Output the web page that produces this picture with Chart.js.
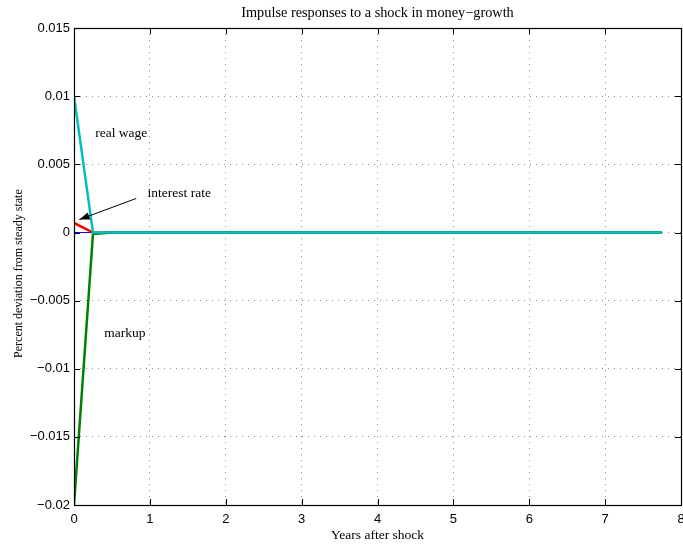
<!DOCTYPE html>
<html>
<head>
<meta charset="utf-8">
<title>Impulse responses</title>
<script src="https://cdn.jsdelivr.net/npm/chart.js@4.4.1/dist/chart.umd.min.js"></script>
<style>
  html, body { margin: 0; padding: 0; background: #fff; }
  canvas { display: block; }
</style>
</head>
<body>
<canvas id="graficoImpulso" width="683" height="545"></canvas>
<script>
// trimestri dopo lo shock (anni)
const anni = [0, 0.25, 0.5, 0.75, 1, 1.25, 1.5, 1.75, 2, 2.25, 2.5, 2.75, 3, 3.25, 3.5, 3.75,
  4, 4.25, 4.5, 4.75, 5, 5.25, 5.5, 5.75, 6, 6.25, 6.5, 6.75, 7, 7.25, 7.5, 7.75];

// risposte
const realWage = [0.01, 0, 0, 0, 0, 0, 0, 0, 0, 0, 0, 0, 0, 0, 0, 0,
  0, 0, 0, 0, 0, 0, 0, 0, 0, 0, 0, 0, 0, 0, 0, 0];
const interestRate = [0.0007, 0, 0, 0, 0, 0, 0, 0, 0, 0, 0, 0, 0, 0, 0, 0,
  0, 0, 0, 0, 0, 0, 0, 0, 0, 0, 0, 0, 0, 0, 0, 0];
const markup = [-0.02, -0.0001, 0, 0, 0, 0, 0, 0, 0, 0, 0, 0, 0, 0, 0, 0,
  0, 0, 0, 0, 0, 0, 0, 0, 0, 0, 0, 0, 0, 0, 0, 0];
const baseline = [0, 0, 0, 0, 0, 0, 0, 0, 0, 0, 0, 0, 0, 0, 0, 0,
  0, 0, 0, 0, 0, 0, 0, 0, 0, 0, 0, 0, 0, 0, 0, 0];

const xTicks = [0, 1, 2, 3, 4, 5, 6, 7, 8];
const yTicks = [-0.02, -0.015, -0.01, -0.005, 0, 0.005, 0.01, 0.015];

// etichette sul grafico (coordinate nei dati)
const labels = [
  { text: 'real wage', x: 0.28, y: 0.0073 },
  { text: 'interest rate', x: 0.97, y: 0.0029 },
  { text: 'markup', x: 0.40, y: -0.0074 }
];
const freccia = { from: [0.82, 0.0025], to: [0.07, 0.00095] };

const serif = '"Liberation Serif", "Times New Roman", serif';
const sans = '"Liberation Sans", Arial, sans-serif';

function punti(vals) {
  return anni.map((a, i) => ({ x: a, y: vals[i] }));
}

function fmtY(v) {
  if (Math.abs(v) < 1e-9) return '0';
  return parseFloat(v.toFixed(3)).toString().replace('-', '\u2212');
}

// box, tacche interne, testi e freccia stile matlab
const matlabBox = {
  id: 'matlabBox',
  afterDraw(chart) {
    const { ctx, chartArea: a, scales: { x, y } } = chart;
    ctx.save();
    ctx.strokeStyle = '#000';
    ctx.lineWidth = 1;
    ctx.beginPath();
    xTicks.forEach(t => {
      const px = Math.round(x.getPixelForValue(t)) + 0.5;
      ctx.moveTo(px, a.bottom); ctx.lineTo(px, a.bottom - 6);
      ctx.moveTo(px, a.top); ctx.lineTo(px, a.top + 6);
    });
    yTicks.forEach(t => {
      const py = Math.round(y.getPixelForValue(t)) + 0.5;
      ctx.moveTo(a.left, py); ctx.lineTo(a.left + 6, py);
      ctx.moveTo(a.right, py); ctx.lineTo(a.right - 6, py);
    });
    ctx.stroke();
    ctx.lineWidth = 1.2;
    ctx.strokeRect(Math.round(a.left) + 0.5, Math.round(a.top) + 0.5,
      Math.round(a.right - a.left), Math.round(a.bottom - a.top));

    // testi
    ctx.fillStyle = '#000';
    ctx.font = '13.5px ' + serif;
    ctx.textBaseline = 'middle';
    ctx.textAlign = 'left';
    labels.forEach(l => {
      ctx.fillText(l.text, x.getPixelForValue(l.x), y.getPixelForValue(l.y));
    });

    // freccia
    const x1 = x.getPixelForValue(freccia.from[0]), y1 = y.getPixelForValue(freccia.from[1]);
    const x2 = x.getPixelForValue(freccia.to[0]), y2 = y.getPixelForValue(freccia.to[1]);
    const ang = Math.atan2(y2 - y1, x2 - x1);
    ctx.lineWidth = 1;
    ctx.beginPath();
    ctx.moveTo(x1, y1); ctx.lineTo(x2, y2);
    ctx.stroke();
    ctx.beginPath();
    ctx.moveTo(x2, y2);
    ctx.lineTo(x2 - 11 * Math.cos(ang - 0.35), y2 - 11 * Math.sin(ang - 0.35));
    ctx.lineTo(x2 - 11 * Math.cos(ang + 0.35), y2 - 11 * Math.sin(ang + 0.35));
    ctx.closePath();
    ctx.fill();

    // titolo asse y
    ctx.save();
    ctx.translate(19, (a.top + a.bottom) / 2 + 7);
    ctx.rotate(-Math.PI / 2);
    ctx.textAlign = 'center';
    ctx.font = '12px ' + serif;
    ctx.fillText('Percent deviation from steady state', 0, 0);
    ctx.restore();
    ctx.restore();
  }
};

function serie(dati, colore, spessore, ordine) {
  return {
    data: punti(dati),
    borderColor: colore,
    backgroundColor: colore,
    borderWidth: spessore,
    pointRadius: 0,
    tension: 0,
    order: ordine
  };
}

const ctxGrafico = document.getElementById('graficoImpulso');
const grafico = new Chart(ctxGrafico, {
  type: 'line',
  data: {
    datasets: [
      serie(realWage, '#00bfbf', 2.5, 1),
      serie(markup, '#008000', 2.5, 2),
      serie(interestRate, '#ff0000', 2.5, 3),
      serie(baseline, '#0000ff', 1, 4)
    ]
  },
  options: {
    responsive: false,
    animation: false,
    layout: { padding: { left: 8, right: 2, top: 0, bottom: 0 } },
    plugins: {
      legend: { display: false },
      tooltip: { enabled: false },
      title: {
        display: true,
        fullSize: false,
        text: 'Impulse responses to a shock in money\u2212growth',
        color: '#000',
        font: { family: serif, size: 14.3, weight: 'normal' },
        padding: { top: 5, bottom: 6 }
      }
    },
    scales: {
      x: {
        type: 'linear',
        min: 0,
        max: 8,
        afterBuildTicks: s => { s.ticks = xTicks.map(v => ({ value: v })); },
        afterFit: s => { s.height = 40; s.paddingRight = 0; },
        grid: { color: '#888', lineWidth: 1, drawTicks: false },
        border: { display: false, dash: [1, 5] },
        ticks: {
          color: '#000',
          padding: 7,
          maxRotation: 0,
          font: { family: sans, size: 13 }
        },
        title: {
          display: true,
          text: 'Years after shock',
          color: '#000',
          font: { family: serif, size: 13.5 },
          padding: { top: 0, bottom: 1 }
        }
      },
      y: {
        type: 'linear',
        min: -0.02,
        max: 0.015,
        afterBuildTicks: s => { s.ticks = yTicks.map(v => ({ value: v })); },
        afterFit: s => { s.width = 66; },
        grid: { color: '#888', lineWidth: 1, drawTicks: false },
        border: { display: false, dash: [1, 5] },
        ticks: {
          color: '#000',
          padding: 4,
          font: { family: sans, size: 13 },
          callback: v => fmtY(v)
        }
      }
    }
  },
  plugins: [matlabBox]
});
</script>
</body>
</html>
